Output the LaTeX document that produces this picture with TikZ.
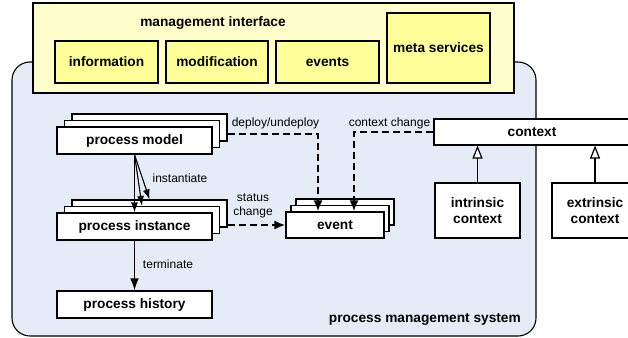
\documentclass[tikz,border=0pt]{standalone}
\usepackage{fontspec}
\setmainfont{Liberation Sans}
\usetikzlibrary{arrows.meta,calc}
\definecolor{ifaceouter}{HTML}{FFFFCC}
\definecolor{ifaceinner}{HTML}{FFFF99}
\definecolor{pmsfill}{HTML}{E6ECF7}
\tikzset{
  every node/.style={font=\fontsize{12}{14}\selectfont, inner sep=0pt},
  boldtext/.style={font=\bfseries\fontsize{13.7}{16}\selectfont, align=center},
  framed/.style={draw, line width=1.1pt, boldtext},
  comp/.style={framed, fill=white},
  iface/.style={framed, fill=ifaceinner},
  pmsbox/.style={draw, line width=1.1pt, fill=pmsfill, rounded corners=18pt},
  flow/.style={line width=1.2pt, -{Latex[length=12pt,width=8.5pt]}},
  thinflow/.style={line width=1.1pt, -{Latex[length=10pt,width=7pt]}},
  evflow/.style={line width=2.5pt, dash pattern=on 7pt off 4pt,
                 -{Latex[length=11pt,width=9pt]}},
  inherit/.style={line width=1.2pt, -{Triangle[open,length=13pt,width=10pt,fill=white]}},
  lbl/.style={font=\fontsize{12}{14}\selectfont, align=center}
}
\begin{document}
\begin{tikzpicture}[x=1pt,y=-1pt]
\clip (0,0) rectangle (628,337);

% process management system container
\node[pmsbox, minimum width=524pt, minimum height=274pt] (pms) at (274,199) {};
\node[boldtext, anchor=east] (pmslabel) at (521,319) {process management system};

% management interface
\node[framed, fill=ifaceouter, minimum width=481pt, minimum height=90pt] (mi) at (273.5,48) {};
\node[boldtext] (mititle) at (213,23) {management interface};
\node[iface, minimum width=103pt, minimum height=42pt] (info) at (106.5,62) {information};
\node[iface, minimum width=102pt, minimum height=42pt] (modif) at (217,62) {modification};
\node[iface, minimum width=103pt, minimum height=42pt] (events) at (327.5,62) {events};
\node[iface, minimum width=103pt, minimum height=70pt] (meta) at (438.5,48) {meta services};

% process model (stacked)
\node[comp, minimum width=155pt, minimum height=27pt] (pmB) at (149.5,127.5) {};
\node[comp, minimum width=155pt, minimum height=27pt] (pmM) at (142,134) {};
\node[comp, minimum width=155pt, minimum height=27pt] (pm) at (134.5,140.5) {process model};

% process instance (stacked)
\node[comp, minimum width=155pt, minimum height=27pt] (ipB) at (149.5,213.5) {};
\node[comp, minimum width=155pt, minimum height=27pt] (ipM) at (142,220) {};
\node[comp, minimum width=155pt, minimum height=27pt] (ip) at (134.5,226.5) {process instance};

% process history
\node[comp, minimum width=155pt, minimum height=27pt] (ph) at (134.5,304.5) {process history};

% event (stacked)
\node[comp, minimum width=98pt, minimum height=26pt] (evB) at (345,212) {};
\node[comp, minimum width=98pt, minimum height=26pt] (evM) at (340,218.5) {};
\node[comp, minimum width=98pt, minimum height=26pt] (ev) at (335,225) {event};

% context hierarchy
\node[comp, minimum width=196pt, minimum height=26pt] (ctx) at (532,132) {context};
\node[comp, minimum width=85pt, minimum height=55pt] (intr) at (477.5,210.5) {intrinsic\\context};
\node[comp, minimum width=86pt, minimum height=55pt] (extr) at (595,210.5) {extrinsic\\context};

% bends of the event connectors
\coordinate (deployturn) at (318,134);
\coordinate (ctxturn) at (354,132);

% instantiation and termination
\draw[thinflow] (pm.south) -- (ip.north);
\draw[thinflow] (pm.south) -- (ipM.north);
\draw[thinflow] (pm.south) -- (ipB.north);
\node[lbl] (instlbl) at (180,178) {instantiate};
\draw[flow] (ip.south) -- (ph.north);
\node[lbl] (termlbl) at (168,264) {terminate};

% event sources
\draw[evflow] (pmB.east |- deployturn) -- (deployturn) -- (deployturn |- ev.north);
\node[lbl] (deploylbl) at (275.5,123) {deploy/undeploy};
\draw[evflow] (ctx.west |- ctxturn) -- (ctxturn) -- (ctxturn |- ev.north);
\node[lbl] (ctxlbl) at (389.5,123) {context change};
\draw[evflow] (ipB.east |- ev.west) -- (ev.west);
\node[lbl] (statuslbl) at (253,206) {status\\change};

% specialisation of context
\draw[inherit] (intr.north) -- (intr.north |- ctx.south);
\draw[inherit] (extr.north) -- (extr.north |- ctx.south);
\end{tikzpicture}
\end{document}
